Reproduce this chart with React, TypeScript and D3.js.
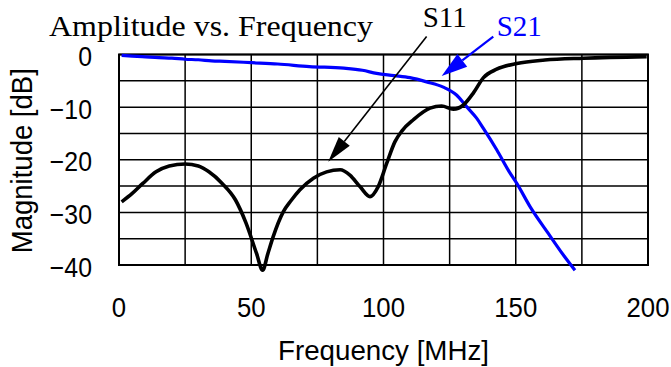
import React, { useEffect, useRef } from 'react';
import * as d3 from 'd3';

// S11 (reflection)
const s11Freq = [1, 5, 9, 14, 19, 25, 30, 34, 39, 44, 48, 52, 54.3, 56.3, 58.3, 62.1, 65, 68.4, 73.5, 78.5, 83.6, 87.3, 91.1, 94.9, 98, 101.2, 104.3, 107, 111.3, 117.6, 122, 126.4, 130.2, 134, 137.8, 142.8, 150.4, 161, 175.6, 199.5];
const s11Mag = [-28.0, -26.4, -24.5, -22.3, -21.2, -20.8, -21.2, -22.3, -24.5, -27.6, -32.0, -37.8, -41.0, -37.8, -34.6, -29.9, -27.8, -25.7, -23.5, -22.3, -21.9, -22.9, -25.1, -27.0, -25.1, -20.7, -16.6, -14.5, -12.4, -10.2, -9.8, -10.4, -9.6, -7.3, -4.4, -2.8, -1.7, -1.05, -0.7, -0.4];

// S21 (transmission)
const s21Freq = [1, 5, 10, 15, 20, 25, 30, 35, 40, 50, 60, 72, 85, 92, 97.4, 104, 110, 116.3, 122.6, 127.6, 131.4, 135.2, 137.7, 142.8, 147.8, 150.4, 155.4, 162.3, 168, 172.4];
const s21Mag = [-0.15, -0.3, -0.45, -0.6, -0.7, -0.9, -1.0, -1.2, -1.3, -1.55, -1.8, -2.3, -2.6, -3.0, -3.6, -4.0, -4.4, -5.2, -6.2, -7.7, -9.9, -12.1, -14.0, -18.1, -22.5, -24.5, -28.9, -34.0, -38.1, -41.0];

const xTicks = [0, 50, 100, 150, 200];
const yTicks = [0, -10, -20, -30, -40];
const xGrid = [0, 25, 50, 75, 100, 125, 150, 175, 200];
const yGrid = [0, -5, -10, -15, -20, -25, -30, -35, -40];

// annotation labels (freq, dB) and arrow from/to
const labelNames = ['S11', 'S21'];
const labelPos = [[114.8, 5.3], [142.8, 3.6]];
const arrowFrom = [[116.3, 3.4], [141.5, 3.4]];
const arrowTo = [[79.1, -20.4], [122.0, -4.1]];

const SANS = '"Liberation Sans", Arial, sans-serif';
const SERIF = '"Liberation Serif", "Times New Roman", serif';
const BLUE = '#0000ff';

const App: React.FC = () => {
  const svgRef = useRef<SVGSVGElement>(null);

  useEffect(() => {
    if (!svgRef.current) return;
    const svg = d3.select(svgRef.current);
    svg.selectAll('*').remove();

    const left = 119, right = 648, top = 54.5, bottom = 265;
    const x = d3.scaleLinear().domain([0, 200]).range([left, right]);
    const y = d3.scaleLinear().domain([-40, 0]).range([bottom, top]);

    // grid
    const grid = svg.append('g').attr('stroke', '#000').attr('stroke-width', 1.5);
    grid.selectAll('line.v').data(xGrid).enter().append('line')
      .attr('x1', d => x(d)).attr('x2', d => x(d))
      .attr('y1', top).attr('y2', bottom);
    grid.selectAll('line.h').data(yGrid).enter().append('line')
      .attr('y1', d => y(d)).attr('y2', d => y(d))
      .attr('x1', left).attr('x2', right);

    svg.append('rect')
      .attr('x', left).attr('y', top)
      .attr('width', right - left).attr('height', bottom - top)
      .attr('fill', 'none').attr('stroke', '#000').attr('stroke-width', 2);

    // tick labels (narrow, tall glyphs like the original gothic font)
    svg.append('g').selectAll('text').data(xTicks).enter().append('text')
      .attr('transform', d => `translate(${x(d)},316.5) scale(0.92,1)`)
      .attr('text-anchor', 'middle')
      .attr('font-family', SANS).attr('font-size', 28)
      .text(d => String(d));

    svg.append('g').selectAll('text').data(yTicks).enter().append('text')
      .attr('transform', d => `translate(92,${y(d) + 11.5}) scale(0.92,1)`)
      .attr('text-anchor', 'end')
      .attr('font-family', SANS).attr('font-size', 27)
      .text(d => (d < 0 ? '\u2212' + Math.abs(d) : String(d)));

    // axis titles
    svg.append('text')
      .attr('x', 278).attr('y', 360)
      .attr('font-family', SANS).attr('font-size', 28)
      .attr('textLength', 211).attr('lengthAdjust', 'spacingAndGlyphs')
      .text('Frequency [MHz]');

    svg.append('text')
      .attr('transform', 'translate(32,160.7) rotate(-90)')
      .attr('text-anchor', 'middle')
      .attr('font-family', SANS).attr('font-size', 29)
      .attr('textLength', 185).attr('lengthAdjust', 'spacingAndGlyphs')
      .text('Magnitude [dB]');

    svg.append('text')
      .attr('x', 49).attr('y', 36)
      .attr('font-family', SERIF).attr('font-size', 29)
      .attr('textLength', 324).attr('lengthAdjust', 'spacingAndGlyphs')
      .text('Amplitude vs. Frequency');

    // curves
    const line = d3.line<[number, number]>()
      .x(d => x(d[0]))
      .y(d => y(d[1]))
      .curve(d3.curveMonotoneX);

    const s11 = s11Freq.map((f, i) => [f, s11Mag[i]] as [number, number]);
    const s21 = s21Freq.map((f, i) => [f, s21Mag[i]] as [number, number]);

    svg.append('path').datum(s21)
      .attr('fill', 'none').attr('stroke', BLUE).attr('stroke-width', 3.2)
      .attr('d', line);

    svg.append('path').datum(s11)
      .attr('fill', 'none').attr('stroke', '#000').attr('stroke-width', 3.6)
      .attr('stroke-linejoin', 'round')
      .attr('d', line);

    // annotations
    labelNames.forEach((name, i) => {
      const color = i === 0 ? '#000' : BLUE;
      const x0 = x(arrowFrom[i][0]), y0 = y(arrowFrom[i][1]);
      const x1 = x(arrowTo[i][0]), y1 = y(arrowTo[i][1]);
      const len = Math.hypot(x1 - x0, y1 - y0);
      const ux = (x1 - x0) / len, uy = (y1 - y0) / len;
      const headLen = 26, headW = i === 0 ? 7 : 8;
      const bx = x1 - ux * headLen, by = y1 - uy * headLen;
      svg.append('line')
        .attr('x1', x0).attr('y1', y0).attr('x2', bx).attr('y2', by)
        .attr('stroke', color).attr('stroke-width', i === 0 ? 1.6 : 2.2);
      svg.append('polygon')
        .attr('points', [
          [x1, y1],
          [bx - uy * headW, by + ux * headW],
          [bx + uy * headW, by - ux * headW],
        ].map(p => p.join(',')).join(' '))
        .attr('fill', color);
      svg.append('text')
        .attr('x', x(labelPos[i][0])).attr('y', y(labelPos[i][1]))
        .attr('font-family', SERIF).attr('font-size', 29)
        .attr('fill', color)
        .text(name);
    });
  }, []);

  return (
    <svg
      ref={svgRef}
      width={671}
      height={367}
      viewBox="0 0 671 367"
      style={{ position: 'absolute', left: 0, top: 0, background: '#fff' }}
    />
  );
};

export default App;
